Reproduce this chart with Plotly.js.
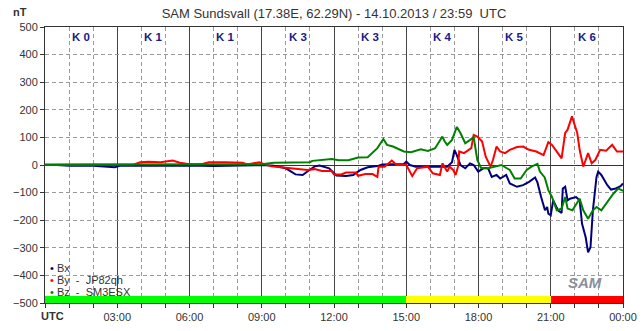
<!DOCTYPE html>
<html>
<head>
<meta charset="utf-8">
<script src="https://cdn.plot.ly/plotly-3.0.1.min.js"></script>
<style>html,body{margin:0;padding:0;background:#fff;}#chart{width:643px;height:331px;}</style>
</head>
<body>
<div id="chart"></div>
<script>
// ---- data (hours UTC, values in nT) ----
const bxHours = [0,0.5,1,2,2.9,3.1,4,5,6,7,8,9,9.5,10,10.4,10.7,10.95,11.2,11.4,11.8,12.1,12.5,12.8,13,13.1,13.4,13.8,14,14.6,14.9,15,15.15,15.4,15.9,16.3,16.7,16.9,17,17.1,17.25,17.45,17.65,17.8,17.99,18.2,18.4,18.55,18.75,18.9,19.15,19.3,19.6,19.85,20.1,20.35,20.45,20.6,20.76,20.85,20.9,21,21.1,21.3,21.45,21.5,21.6,21.7,21.8,22.05,22.2,22.3,22.45,22.55,22.65,22.75,22.9,22.97,23.1,23.35,23.5,23.7,23.9,24];
const bxValues = [0,0,-3,-3,-8,-3,-3,-2,-2,-4,-3,0,-3,-12,-34,-36,-20,-5,-2,-12,-38,-40,-36,-22,-18,-8,-4,2,2,4,12,0,-6,-6,-6,-6,10,55,36,0,-12,6,0,-24,-12,-12,-43,-36,-49,-36,-67,-79,-73,-61,-45,-64,-116,-164,-152,-176,-182,-128,-164,-174,-85,-79,-128,-122,-116,-128,-213,-262,-316,-298,-164,-43,-24,-36,-73,-89,-85,-77,-67];

const byHours = [0,1,2,3,3.7,3.95,4.3,4.8,5.3,5.6,6,6.5,6.8,7.5,8.2,8.4,8.9,9.1,9.4,9.8,10.3,10.7,10.9,11.2,11.5,11.9,12,12.3,12.5,12.9,13,13.3,13.6,13.8,13.85,14.1,14.4,14.6,15,15.25,15.45,15.9,16.1,16.4,16.5,16.7,16.8,16.95,17.05,17.15,17.2,17.4,17.6,17.7,17.8,17.95,18.15,18.3,18.4,18.5,18.6,18.75,18.9,19.1,19.3,19.6,19.85,20.1,20.4,20.7,20.9,21.05,21.2,21.35,21.45,21.6,21.7,21.88,22.1,22.2,22.35,22.45,22.55,22.7,22.85,23.05,23.3,23.55,23.75,24];
const byValues = [0,0,0,0,2,10,12,10,16,8,3,3,10,10,8,2,10,3,-5,-8,-12,-15,-18,-15,-22,-22,-34,-34,-27,-27,-39,-33,-33,-43,-6,-6,16,0,0,-40,-12,-6,-30,-36,6,-24,-6,-18,-36,-6,49,43,57,61,109,103,85,30,12,-6,18,67,49,43,55,65,67,55,49,36,83,73,55,36,24,116,128,176,116,55,-6,18,43,6,18,55,52,73,49,49];

const bzHours = [0,3,6,8,9,9.5,10.5,11,11.1,11.9,12.2,12.6,13,13.4,13.8,14.05,14.2,14.45,14.9,15.2,15.6,15.9,16.2,16.5,16.6,16.7,16.9,17.1,17.25,17.45,17.65,17.8,17.95,18.1,18.4,18.7,18.95,19.3,19.5,19.75,20,20.2,20.45,20.55,20.75,20.9,21.05,21.25,21.45,21.6,21.7,21.9,22.2,22.35,22.55,22.75,22.9,23.1,23.35,23.6,23.8,24];
const bzValues = [2,2,2,2,3,8,8,10,15,22,17,17,27,28,61,94,73,67,49,46,57,51,61,103,85,73,91,138,116,79,91,101,18,-10,-12,-6,0,-18,-49,-49,-18,-6,4,-24,-45,-91,-116,-164,-158,-116,-158,-164,-122,-164,-195,-164,-152,-164,-134,-104,-85,-94];

const kMid = [1.5,4.5,7.5,10.5,13.5,16.5,19.5,22.5];
const kIndex = [0,1,1,3,3,4,5,6];
const tickHours = [0,3,6,9,12,15,18,21,24];
const tickLabels = ['','03:00','06:00','09:00','12:00','15:00','18:00','21:00','00:00'];
const seriesNames = ['Bx','By','Bz'];
const seriesLegend = ['Bx','By  -  JP82qh','Bz  -  SM3ESX'];
const seriesColors = ['#00007f','#ff0000','#008000'];

const FONT = 'Liberation Sans, Arial, sans-serif';

function kColor(k){ return k >= 6 ? '#ff0000' : (k >= 4 ? '#ffff00' : '#00ff00'); }

const traces = [];
traces.push({
  type:'bar', x:kMid, y:kMid.map(()=>25), base:-500, width:3,
  marker:{color:kIndex.map(kColor), line:{width:0}}, hoverinfo:'skip', showlegend:false
});
const xs=[bxHours,byHours,bzHours], ys=[bxValues,byValues,bzValues];
for(let i=0;i<3;i++){
  traces.push({type:'scatter', mode:'lines', x:xs[i], y:ys[i], name:seriesNames[i],
    line:{color:seriesColors[i], width:2}, showlegend:false, hoverinfo:'skip'});
}

const annotations = [];
kMid.forEach((m,i)=>{
  annotations.push({xref:'x', yref:'paper', x:m, y:0.964, text:'<b>K '+kIndex[i]+'</b>',
    showarrow:false, font:{family:FONT, size:11.5, color:'#1a1a8c'}, xanchor:'center', yanchor:'middle'});
});
const legY=[0.127,0.083,0.04];
seriesLegend.forEach((t,i)=>{
  annotations.push({xref:'paper', yref:'paper', x:0.006, y:legY[i], xanchor:'left', yanchor:'middle',
    showarrow:false, text:'<span style="color:'+seriesColors[i]+'">•</span> '+t,
    font:{family:FONT, size:11, color:'#333'}});
});
annotations.push({xref:'paper', yref:'paper', x:-0.043, y:1.054, text:'<b>nT</b>', showarrow:false,
  font:{family:FONT, size:11, color:'#333'}, xanchor:'center', yanchor:'middle'});
annotations.push({xref:'paper', yref:'paper', x:0, y:-0.047, xshift:-6, text:'<b>UTC</b>', showarrow:false,
  font:{family:FONT, size:11, color:'#333'}, xanchor:'left', yanchor:'middle'});
annotations.push({xref:'paper', yref:'paper', x:0.935, y:0.075, text:'<i><b>SAM</b></i>', showarrow:false,
  font:{family:FONT, size:15, color:'#8a8f9a'}, xanchor:'center', yanchor:'middle'});

const layout = {
  width:643, height:331,
  margin:{l:45, r:20, t:27, b:28},
  paper_bgcolor:'#fff', plot_bgcolor:'#fff',
  title:{text:'SAM Sundsvall (17.38E, 62.29N) - 14.10.2013 / 23:59  UTC', font:{family:FONT, size:13, color:'#333'},
    xref:'paper', x:0.5, xanchor:'center', yref:'container', y:1-13/331, yanchor:'middle'},
  showlegend:false,
  xaxis:{range:[0,24], tickmode:'array', tickvals:tickHours, ticktext:tickLabels,
    showgrid:true, gridcolor:'#444', gridwidth:1,
    ticks:'outside', ticklen:4, tickcolor:'#333',
    minor:{dtick:1, tick0:0, showgrid:true, gridcolor:'#9a9a9a', griddash:'4px,3px', ticks:'outside', ticklen:4, tickcolor:'#333'},
    showline:true, linecolor:'#333', linewidth:1, mirror:true, zeroline:false,
    tickfont:{family:FONT, size:11, color:'#333'}, fixedrange:true},
  yaxis:{range:[-500,500], dtick:100, tick0:0,
    showgrid:true, gridcolor:'#9a9a9a', griddash:'4px,3px',
    zeroline:true, zerolinecolor:'#333', zerolinewidth:1,
    ticks:'outside', ticklen:4, tickcolor:'#333',
    showline:true, linecolor:'#333', linewidth:1, mirror:true,
    tickfont:{family:FONT, size:11, color:'#333'}, fixedrange:true},
  annotations:annotations,
  bargap:0
};
Plotly.newPlot('chart', traces, layout, {staticPlot:true, displayModeBar:false});
</script>
</body>
</html>
